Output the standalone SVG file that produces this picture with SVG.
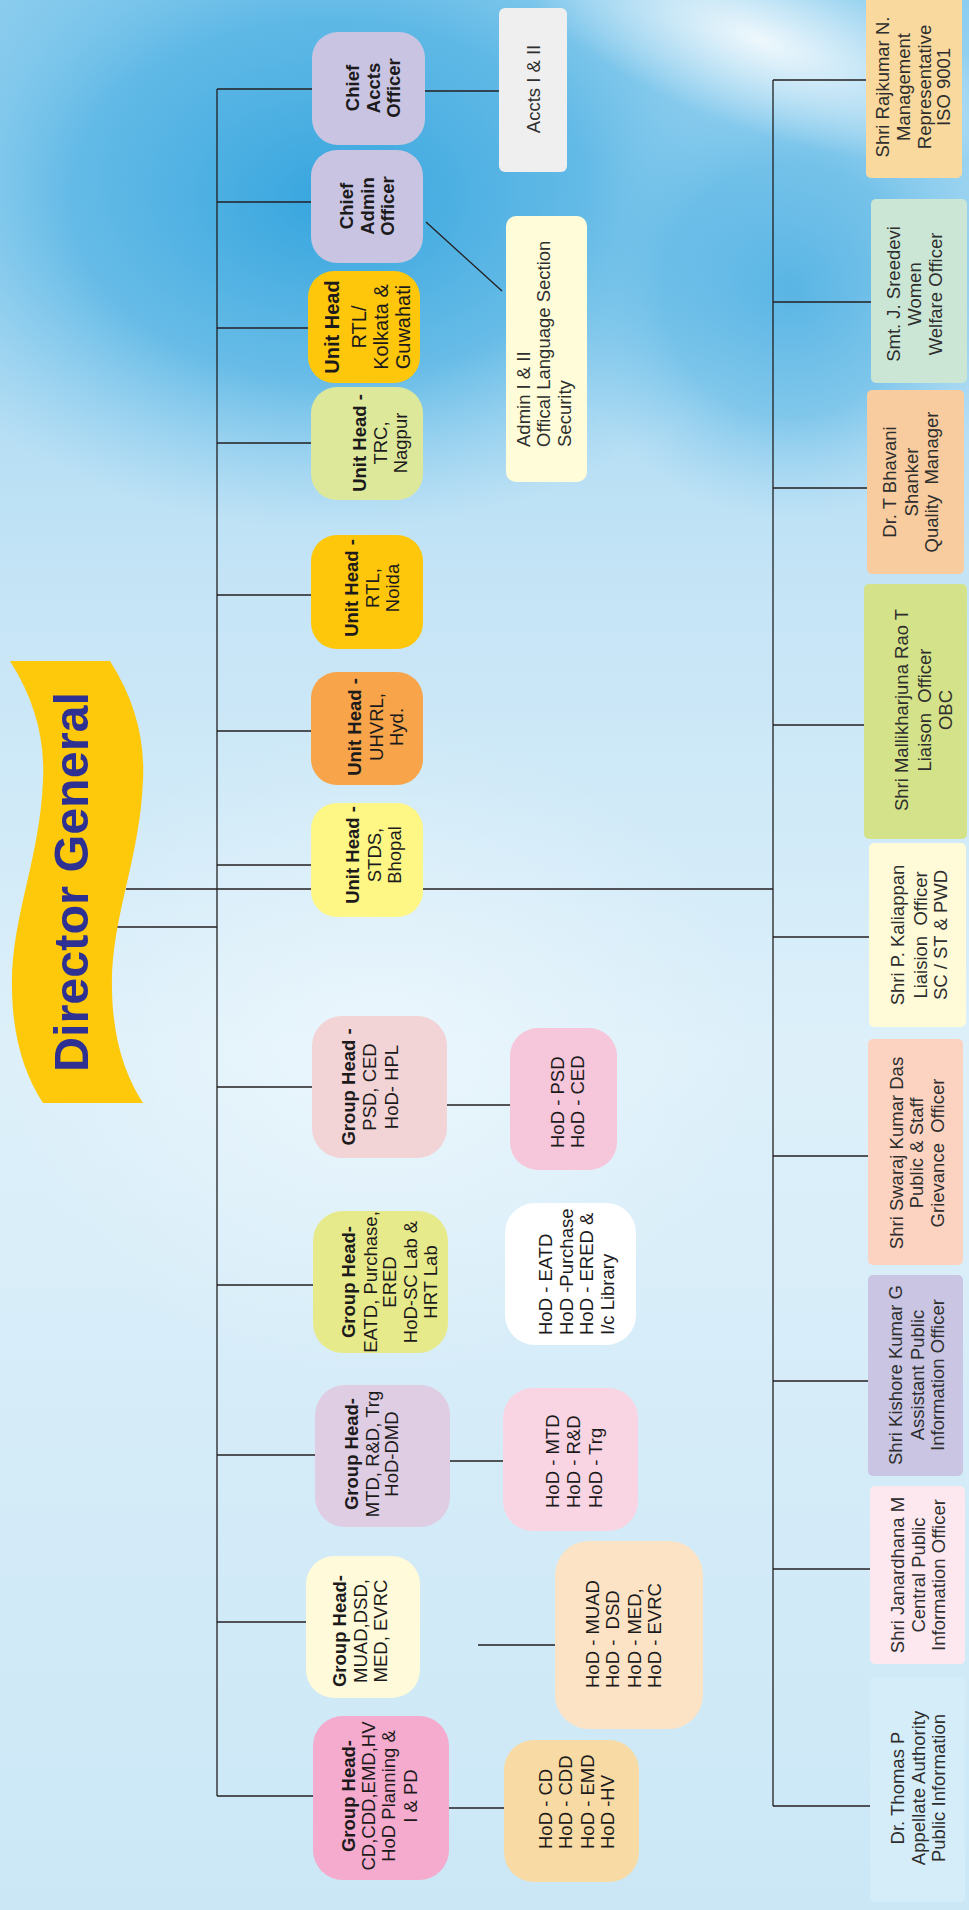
<svg xmlns="http://www.w3.org/2000/svg" width="969" height="1910" viewBox="0 0 969 1910">
<defs>
<linearGradient id="bg" x1="0" y1="0" x2="0" y2="1">
<stop offset="0" stop-color="#8ccdee"/>
<stop offset="0.3" stop-color="#c4e4f6"/>
<stop offset="0.55" stop-color="#ddf0fa"/>
<stop offset="1" stop-color="#cbe7f6"/>
</linearGradient>
<radialGradient id="blob1" cx="0.5" cy="0.5" r="0.5">
<stop offset="0" stop-color="#36a5de" stop-opacity="1"/>
<stop offset="0.55" stop-color="#4aafe2" stop-opacity="0.7"/>
<stop offset="1" stop-color="#7cc6ec" stop-opacity="0"/>
</radialGradient>
<radialGradient id="blob2" cx="0.5" cy="0.5" r="0.5">
<stop offset="0" stop-color="#ffffff" stop-opacity="0.85"/>
<stop offset="1" stop-color="#ffffff" stop-opacity="0"/>
</radialGradient>
<style>
.ln{stroke:#231f20;stroke-width:1.3;fill:none}
.t{font-family:"Liberation Sans",Arial,sans-serif;font-size:18.5px;fill:#1c1a1b}
.b{font-weight:bold}
.r{fill:#2e2e2e}
.m{text-anchor:middle}
.s{text-anchor:start}
</style>
</defs>
<rect width="969" height="1910" fill="url(#bg)"/>
<ellipse cx="330" cy="200" rx="470" ry="330" fill="url(#blob1)"/>
<ellipse cx="790" cy="290" rx="230" ry="230" fill="url(#blob1)" opacity="0.7"/>
<ellipse cx="760" cy="40" rx="260" ry="90" fill="url(#blob2)" transform="rotate(20 760 40)"/>
<ellipse cx="380" cy="1050" rx="380" ry="330" fill="url(#blob2)" opacity="0.5"/>

<g id="connectors">
<line class="ln" x1="217" y1="89" x2="217" y2="1796"/>
<line class="ln" x1="217" y1="89" x2="312" y2="89"/>
<line class="ln" x1="217" y1="202" x2="311" y2="202"/>
<line class="ln" x1="217" y1="328" x2="308" y2="328"/>
<line class="ln" x1="217" y1="443" x2="311" y2="443"/>
<line class="ln" x1="217" y1="595" x2="311" y2="595"/>
<line class="ln" x1="217" y1="731" x2="311" y2="731"/>
<line class="ln" x1="217" y1="865" x2="311" y2="865"/>
<line class="ln" x1="217" y1="1087" x2="312" y2="1087"/>
<line class="ln" x1="217" y1="1285" x2="313" y2="1285"/>
<line class="ln" x1="217" y1="1455" x2="315" y2="1455"/>
<line class="ln" x1="217" y1="1622" x2="306" y2="1622"/>
<line class="ln" x1="217" y1="1796" x2="313" y2="1796"/>
<line class="ln" x1="126" y1="889" x2="311" y2="889"/>
<line class="ln" x1="117" y1="927" x2="217" y2="927"/>
<line class="ln" x1="423" y1="889" x2="773" y2="889"/>
<line class="ln" x1="425" y1="91" x2="499" y2="91"/>
<line class="ln" x1="426" y1="222" x2="502" y2="291"/>
<line class="ln" x1="447" y1="1105" x2="510" y2="1105"/>
<line class="ln" x1="450" y1="1461" x2="503" y2="1461"/>
<line class="ln" x1="478" y1="1645" x2="555" y2="1645"/>
<line class="ln" x1="449" y1="1808" x2="504" y2="1808"/>
<line class="ln" x1="773" y1="80" x2="773" y2="1806"/>
<line class="ln" x1="773" y1="80" x2="866" y2="80"/>
<line class="ln" x1="773" y1="302" x2="871" y2="302"/>
<line class="ln" x1="773" y1="488" x2="867" y2="488"/>
<line class="ln" x1="773" y1="725" x2="864" y2="725"/>
<line class="ln" x1="773" y1="937" x2="869" y2="937"/>
<line class="ln" x1="773" y1="1156" x2="868" y2="1156"/>
<line class="ln" x1="773" y1="1381" x2="868" y2="1381"/>
<line class="ln" x1="773" y1="1569" x2="870" y2="1569"/>
<line class="ln" x1="773" y1="1806" x2="870" y2="1806"/>
</g>

<g id="director-general">
<path d="M10,661 L110,661 C135,700 145,740 143,780 C140,860 110,920 112,990 C113,1040 125,1075 143,1103 L43,1103 C25,1075 13,1040 12,990 C10,920 40,860 43,780 C45,740 35,700 10,661 Z" fill="#fec80b"/>
<text class="t b m" transform="translate(0,882) rotate(-90)" y="88" style="font-size:48.5px;fill:#2e3192">Director General</text>
</g>

<g id="chief-accts">
<rect x="312" y="32" width="113" height="113" rx="26" fill="#c8c4e1"/>
<text class="t b m" transform="translate(0,88) rotate(-90)"><tspan x="0" y="359">Chief</tspan><tspan x="0" y="380">Accts</tspan><tspan x="0" y="400">Officer</tspan></text>
</g>
<g id="accts">
<rect x="499" y="8" width="68" height="164" rx="6" fill="#efefef"/>
<text class="t m r" transform="translate(0,89) rotate(-90)" y="540">Accts I &amp; II</text>
</g>
<g id="chief-admin">
<rect x="311" y="150" width="112" height="113" rx="26" fill="#c8c4e1"/>
<text class="t b m" transform="translate(0,206) rotate(-90)"><tspan x="0" y="353">Chief</tspan><tspan x="0" y="374">Admin</tspan><tspan x="0" y="394">Officer</tspan></text>
</g>
<g id="admin">
<rect x="506" y="216" width="81" height="266" rx="10" fill="#fffcd9"/>
<text class="t s r" transform="translate(0,447) rotate(-90)"><tspan x="0" y="530">Admin I &amp; II</tspan><tspan x="0" y="550">Offical Language Section</tspan><tspan x="0" y="571">Security</tspan></text>
</g>
<g id="unit-rtl-kolkata">
<rect x="308" y="271" width="112" height="112" rx="26" fill="#fec70b"/>
<text class="t m" transform="translate(0,327) rotate(-90)" style="font-size:20px"><tspan x="0" y="339" font-weight="bold">Unit Head</tspan><tspan x="0" y="366">RTL/</tspan><tspan x="0" y="388">Kolkata &amp;</tspan><tspan x="0" y="410">Guwahati</tspan></text>
</g>
<g id="unit-trc">
<rect x="311" y="387" width="112" height="113" rx="26" fill="#dde89b"/>
<text class="t m" transform="translate(0,443) rotate(-90)"><tspan x="0" y="366" font-weight="bold">Unit Head -</tspan><tspan x="0" y="387">TRC,</tspan><tspan x="0" y="407">Nagpur</tspan></text>
</g>
<g id="unit-noida">
<rect x="311" y="535" width="112" height="114" rx="26" fill="#fec70b"/>
<text class="t m" transform="translate(0,588) rotate(-90)"><tspan x="0" y="358" font-weight="bold">Unit Head -</tspan><tspan x="0" y="379">RTL,</tspan><tspan x="0" y="399">Noida</tspan></text>
</g>
<g id="unit-uhvrl">
<rect x="311" y="672" width="112" height="113" rx="26" fill="#f7a44a"/>
<text class="t m" transform="translate(0,727) rotate(-90)"><tspan x="0" y="361" font-weight="bold">Unit Head -</tspan><tspan x="0" y="383">UHVRL,</tspan><tspan x="0" y="403">Hyd.</tspan></text>
</g>
<g id="unit-stds">
<rect x="311" y="803" width="112" height="114" rx="26" fill="#fef685"/>
<text class="t m" transform="translate(0,855) rotate(-90)"><tspan x="0" y="359" font-weight="bold">Unit Head -</tspan><tspan x="0" y="381">STDS,</tspan><tspan x="0" y="401">Bhopal</tspan></text>
</g>
<g id="group-psd">
<rect x="312" y="1016" width="135" height="142" rx="30" fill="#f2d3d6"/>
<text class="t m" transform="translate(0,1087) rotate(-90)"><tspan x="0" y="355" font-weight="bold">Group Head -</tspan><tspan x="0" y="376">PSD, CED</tspan><tspan x="0" y="398">HoD- HPL</tspan></text>
</g>
<g id="hod-psd">
<rect x="510" y="1028" width="107" height="142" rx="28" fill="#f6c6da"/>
<text class="t s" transform="translate(0,1148) rotate(-90)"><tspan x="0" y="564">HoD - PSD</tspan><tspan x="0" y="584">HoD - CED</tspan></text>
</g>
<g id="group-eatd">
<rect x="313" y="1211" width="135" height="142" rx="30" fill="#e7ea8b"/>
<text class="t m" transform="translate(0,1282) rotate(-90)"><tspan x="0" y="355" font-weight="bold">Group Head-</tspan><tspan x="0" y="377">EATD, Purchase,</tspan><tspan x="0" y="396">ERED</tspan><tspan x="0" y="417">HoD-SC Lab &amp;</tspan><tspan x="0" y="437">HRT Lab</tspan></text>
</g>
<g id="hod-eatd">
<rect x="505" y="1203" width="131" height="142" rx="30" fill="#ffffff"/>
<text class="t s" transform="translate(0,1335) rotate(-90)"><tspan x="0" y="552">HoD - EATD</tspan><tspan x="0" y="573">HoD -Purchase</tspan><tspan x="0" y="593">HoD - ERED &amp;</tspan><tspan x="0" y="614">I/c Library</tspan></text>
</g>
<g id="group-mtd">
<rect x="315" y="1385" width="135" height="142" rx="30" fill="#dfcde3"/>
<text class="t m" transform="translate(0,1454) rotate(-90)"><tspan x="0" y="358" font-weight="bold">Group Head-</tspan><tspan x="0" y="379">MTD, R&amp;D, Trg</tspan><tspan x="0" y="398">HoD-DMD</tspan></text>
</g>
<g id="hod-mtd">
<rect x="503" y="1388" width="135" height="143" rx="30" fill="#f9d5e4"/>
<text class="t s" transform="translate(0,1508) rotate(-90)"><tspan x="0" y="559">HoD - MTD</tspan><tspan x="0" y="580">HoD - R&amp;D</tspan><tspan x="0" y="602">HoD - Trg</tspan></text>
</g>
<g id="group-muad">
<rect x="306" y="1556" width="114" height="142" rx="28" fill="#fffad9"/>
<text class="t m" transform="translate(0,1631) rotate(-90)"><tspan x="0" y="346" font-weight="bold">Group Head-</tspan><tspan x="0" y="367">MUAD,DSD,</tspan><tspan x="0" y="387">MED, EVRC</tspan></text>
</g>
<g id="hod-muad">
<rect x="555" y="1541" width="148" height="188" rx="34" fill="#fde3c6"/>
<text class="t s" transform="translate(0,1688) rotate(-90)"><tspan x="0" y="599">HoD - MUAD</tspan><tspan x="0" y="619">HoD - &#160;DSD</tspan><tspan x="0" y="641">HoD - MED,</tspan><tspan x="0" y="661">HoD - EVRC</tspan></text>
</g>
<g id="group-cd">
<rect x="313" y="1716" width="136" height="164" rx="30" fill="#f4abcd"/>
<text class="t m" transform="translate(0,1796) rotate(-90)"><tspan x="0" y="355" font-weight="bold">Group Head-</tspan><tspan x="0" y="375">CD,CDD,EMD,HV</tspan><tspan x="0" y="395">HoD Planning &amp;</tspan><tspan x="0" y="417">I &amp; PD</tspan></text>
</g>
<g id="hod-cd">
<rect x="504" y="1740" width="135" height="142" rx="30" fill="#f8dba4"/>
<text class="t s" transform="translate(0,1849) rotate(-90)"><tspan x="0" y="552">HoD - CD</tspan><tspan x="0" y="572">HoD - CDD</tspan><tspan x="0" y="594">HoD - EMD</tspan><tspan x="0" y="614">HoD -HV</tspan></text>
</g>

<g id="rajkumar">
<rect x="866" y="-6" width="96" height="184" rx="5" fill="#f9d99e"/>
<text class="t m r" transform="translate(0,87) rotate(-90)"><tspan x="0" y="889">Shri Rajkumar N.</tspan><tspan x="0" y="910">Management</tspan><tspan x="0" y="931">Representative</tspan><tspan x="0" y="950">ISO 9001</tspan></text>
</g>
<g id="sreedevi">
<rect x="871" y="199" width="96" height="184" rx="5" fill="#cce6d5"/>
<text class="t m r" transform="translate(0,294) rotate(-90)"><tspan x="0" y="900">Smt. J. Sreedevi</tspan><tspan x="0" y="921">Women</tspan><tspan x="0" y="942">Welfare Officer</tspan></text>
</g>
<g id="bhavani">
<rect x="867" y="390" width="97" height="184" rx="5" fill="#f8cc9e"/>
<text class="t m r" transform="translate(0,482) rotate(-90)"><tspan x="0" y="896">Dr. T Bhavani</tspan><tspan x="0" y="918">Shanker</tspan><tspan x="0" y="938">Quality &#160;Manager</tspan></text>
</g>
<g id="mallikharjuna">
<rect x="864" y="584" width="103" height="255" rx="5" fill="#d4e289"/>
<text class="t m r" transform="translate(0,710) rotate(-90)"><tspan x="0" y="908">Shri Mallikharjuna Rao T</tspan><tspan x="0" y="931">Liaison &#160;Officer</tspan><tspan x="0" y="952">OBC</tspan></text>
</g>
<g id="kaliappan">
<rect x="869" y="843" width="97" height="184" rx="5" fill="#fffbd9"/>
<text class="t m r" transform="translate(0,935) rotate(-90)"><tspan x="0" y="904">Shri P. Kaliappan</tspan><tspan x="0" y="927">Liaision &#160;Officer</tspan><tspan x="0" y="947">SC / ST &amp; PWD</tspan></text>
</g>
<g id="swaraj">
<rect x="868" y="1039" width="95" height="226" rx="5" fill="#fcd3c0"/>
<text class="t m r" transform="translate(0,1153) rotate(-90)"><tspan x="0" y="903">Shri Swaraj Kumar Das</tspan><tspan x="0" y="923">Public &amp; Staff</tspan><tspan x="0" y="944">Grievance &#160;Officer</tspan></text>
</g>
<g id="kishore">
<rect x="868" y="1275" width="95" height="201" rx="5" fill="#c9c5e2"/>
<text class="t m r" transform="translate(0,1375) rotate(-90)"><tspan x="0" y="902">Shri Kishore Kumar G</tspan><tspan x="0" y="924">Assistant Public</tspan><tspan x="0" y="944">Information Officer</tspan></text>
</g>
<g id="janardhana">
<rect x="870" y="1486" width="95" height="178" rx="5" fill="#fde8f0"/>
<text class="t m r" transform="translate(0,1575) rotate(-90)"><tspan x="0" y="904">Shri Janardhana M</tspan><tspan x="0" y="925">Central Public</tspan><tspan x="0" y="945">Information Officer</tspan></text>
</g>
<g id="thomas">
<rect x="870" y="1677" width="95" height="225" rx="5" fill="#d5edf9"/>
<text class="t m r" transform="translate(0,1788) rotate(-90)"><tspan x="0" y="904">Dr. Thomas P</tspan><tspan x="0" y="925">Appellate Authority</tspan><tspan x="0" y="945">Public Information</tspan></text>
</g>
</svg>
